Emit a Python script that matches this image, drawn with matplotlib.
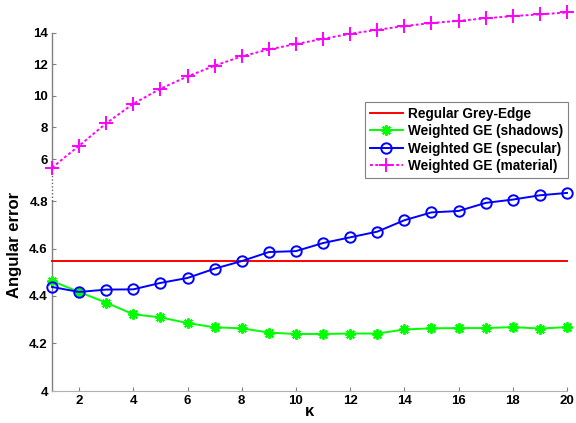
import matplotlib
matplotlib.use("Agg")
import matplotlib.pyplot as plt
import numpy as np

# kappa values and angular errors
kappa = np.arange(1, 21)
regular_ge = 4.546
shadows = [4.463, 4.417, 4.372, 4.323, 4.310, 4.286, 4.268, 4.264, 4.246, 4.240,
           4.240, 4.242, 4.242, 4.259, 4.264, 4.265, 4.265, 4.269, 4.263, 4.269]
specular = [4.438, 4.417, 4.427, 4.428, 4.455, 4.476, 4.515, 4.547, 4.585, 4.589,
            4.623, 4.647, 4.671, 4.719, 4.752, 4.758, 4.792, 4.806, 4.824, 4.834]
material = [5.45, 6.84, 8.26, 9.50, 10.45, 11.23, 11.91, 12.50, 12.94, 13.28,
            13.61, 13.93, 14.18, 14.42, 14.61, 14.75, 14.91, 15.05, 15.16, 15.28]

y_ticks = [4, 4.2, 4.4, 4.6, 4.8, 6, 8, 10, 12, 14]
y_tick_labels = ["4", "4.2", "4.4", "4.6", "4.8", "6", "8", "10", "12", "14"]
x_ticks = [2, 4, 6, 8, 10, 12, 14, 16, 18, 20]

# broken y axis: fine linear part below ~4.87, coarse linear part above ~5.4
LOW_SLOPE, HIGH_SLOPE = 237.5, 15.79
brk_y = np.array([-100.0, 4.0, 4.87, 5.4, 100.0])
brk_u = np.array([
    -104 * LOW_SLOPE,
    0.0,
    0.87 * LOW_SLOPE,
    232 + (5.4 - 6) * HIGH_SLOPE,
    232 + (100 - 6) * HIGH_SLOPE,
])


def forward(y):
    return np.interp(y, brk_y, brk_u)


def inverse(u):
    return np.interp(u, brk_u, brk_y)


plt.rcParams.update({
    "font.family": ["Liberation Sans", "DejaVu Sans"],
    "font.weight": "bold",
    "font.size": 9.5,
})

W, H = 576, 423
fig = plt.figure(figsize=(W / 100, H / 100), dpi=100)
ax = fig.add_axes([52 / W, (H - 391) / H, (567 - 52) / W, (391 - 5) / H])
ax.set_yscale("function", functions=(forward, inverse))

ax.plot(kappa, [regular_ge] * len(kappa), color="#ff0000", lw=1.4,
        label="Regular Grey-Edge", clip_on=False)
ax.plot(kappa, shadows, color="#00ff00", lw=1.4, marker=(8, 2, 0), ms=7.5,
        mew=1.4, label="Weighted GE (shadows)", clip_on=False)
ax.plot(kappa, specular, color="#0000ff", lw=1.4, marker="o", ms=7.5,
        mfc="none", mew=1.4, label="Weighted GE (specular)", clip_on=False)
ax.plot(kappa, material, color="#ff00ff", lw=1.4, ls=(0, (1.5, 1.2)),
        marker="+", ms=10, mew=1.4, label="Weighted GE (material)", clip_on=False)

ax.set_xlim(1, 20)
ax.set_ylim(4, inverse(386))
ax.set_xticks(x_ticks)
ax.set_yticks(y_ticks, y_tick_labels)
ax.tick_params(direction="in", length=3, width=0.8, color="#808080",
               labelsize=9.5, pad=3)

for side in ["top", "right", "left"]:
    ax.spines[side].set_visible(False)
ax.spines["bottom"].set_color("#b0b0b0")

# left axis drawn in pieces, dotted across the break
axis_grey = "#808080"
ax.plot([1, 1], [4, 4.8], color=axis_grey, lw=1, clip_on=False, zorder=1)
ax.plot([1, 1], [4.8, material[0]], color="#606060", lw=1, ls=(0, (1, 1.5)),
        clip_on=False, zorder=1)
ax.plot([1, 1], [material[0], 14], color=axis_grey, lw=1, clip_on=False, zorder=1)

fig.text(15 / W, 1 - 245 / H, "Angular error", rotation=90, ha="center",
         va="center", fontsize=12, fontweight="bold")
fig.text(309 / W, 1 - 411 / H, "κ", ha="center", va="center",
         fontsize=12, fontweight="bold")

leg = ax.legend(loc="upper left", bbox_to_anchor=(365 / W, 1 - 102 / H),
                bbox_transform=fig.transFigure, fontsize=9.8, frameon=True,
                fancybox=False, framealpha=1, edgecolor="#808080",
                handlelength=2.45, handletextpad=0.36, borderpad=0.35,
                labelspacing=0.25, borderaxespad=0)
leg.get_frame().set_linewidth(0.8)

fig.savefig("out.png", dpi=100)
